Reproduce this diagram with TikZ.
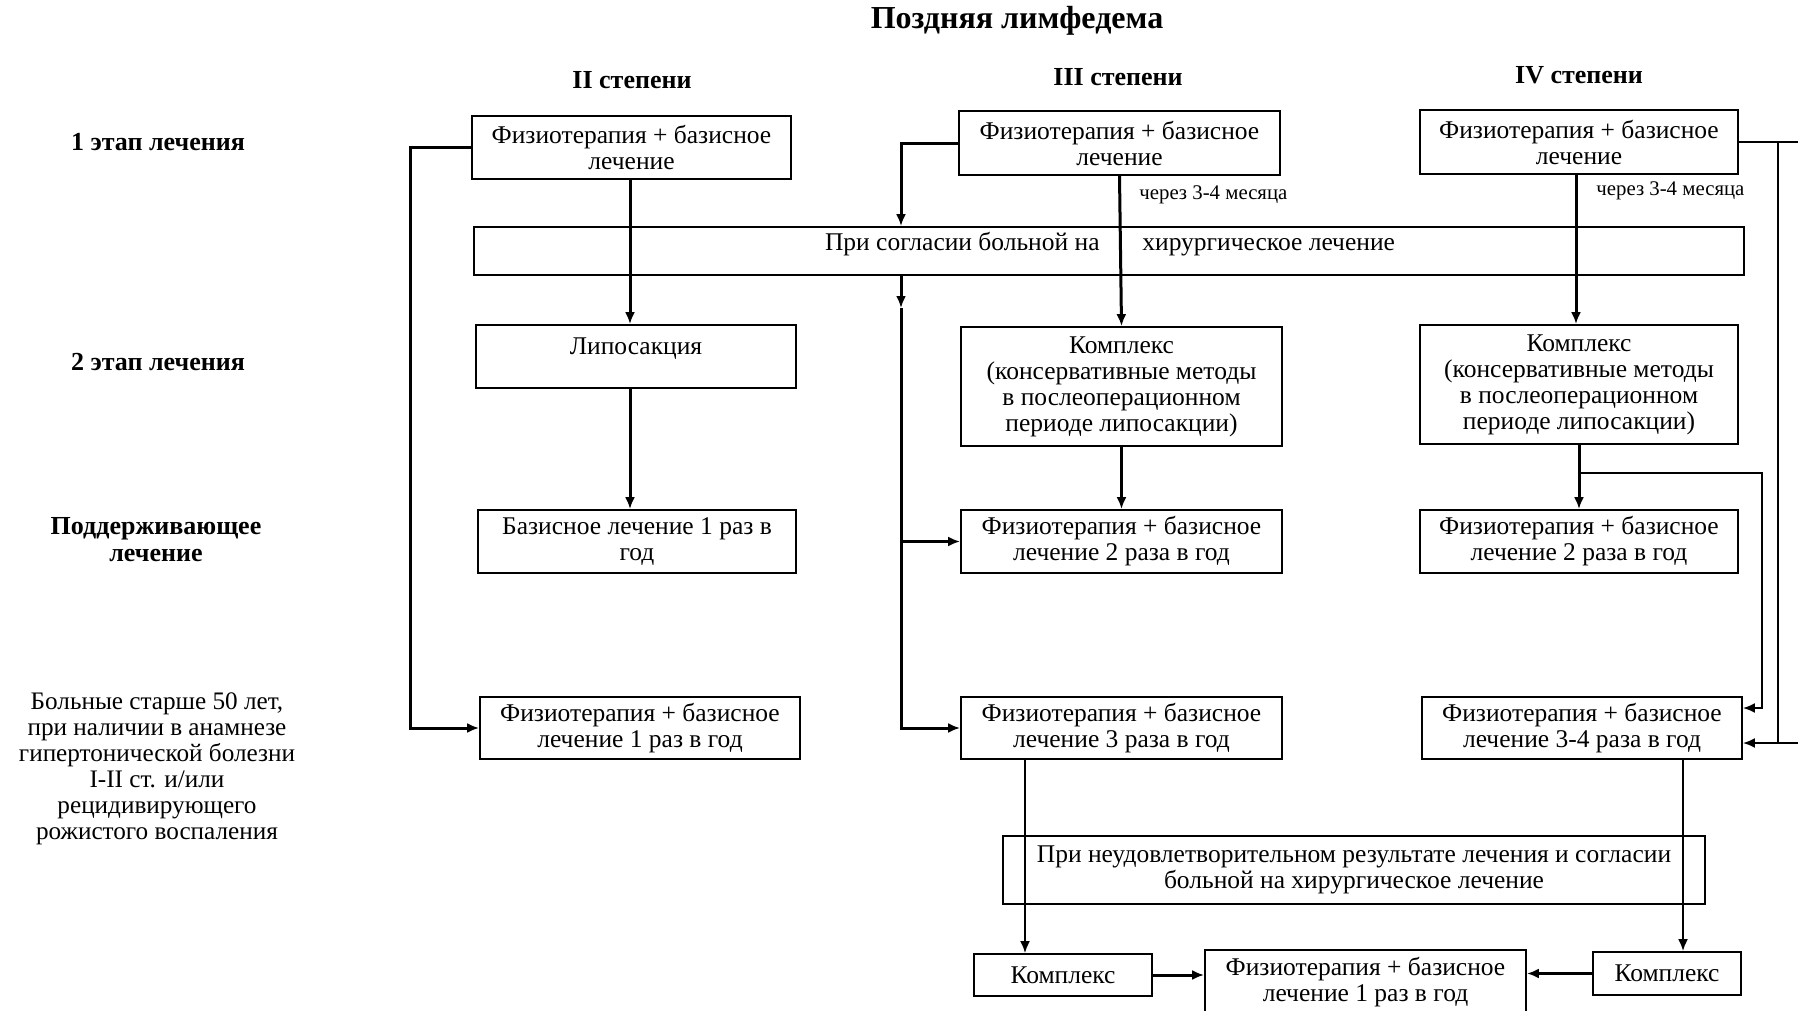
\documentclass[tikz,border=0pt]{standalone}
\usepackage{fontspec}
\setmainfont{Liberation Serif}
\usetikzlibrary{arrows.meta}
\begin{document}
\begin{tikzpicture}[x=0.5pt,y=-0.5pt,
  box/.style={draw,line width=0.9pt,inner sep=0pt,align=center,font=\fontsize{12.75}{13}\selectfont},
  rowlab/.style={align=center,font=\bfseries\fontsize{13}{13.5}\selectfont},
  head/.style={font=\bfseries\fontsize{13}{14}\selectfont},
  conn/.style={line width=1.5pt},
  thinconn/.style={line width=1pt},
  arr/.style={-{Latex[length=6pt,width=5pt]}},
  note/.style={font=\fontsize{10.4}{11}\selectfont,inner sep=0pt}
]
\useasboundingbox (0,0) rectangle (1798,1011);
\fill[white] (0,0) rectangle (1798,1011);

% titles
\node[font=\bfseries\fontsize{16}{18}\selectfont] (title) at (1017,21) {Поздняя лимфедема};
\node[head] (h2) at (632,80) {II степени};
\node[head] (h3) at (1118,77) {III степени};
\node[head] (h4) at (1579,75) {IV степени};

% row labels
\node[rowlab] (r1) at (158,142) {1 этап лечения};
\node[rowlab] (r2) at (158,362) {2 этап лечения};
\node[rowlab] (r3) at (156,540) {Поддерживающее\\лечение};
\node[align=center,font=\fontsize{12.6}{13}\selectfont] (r4) at (157,769)
  {Больные старше 50 лет,\\при наличии в анамнезе\\гипертонической болезни\\I-II ст. и/или\\рецидивирующего\\рожистого воспаления};

% column II
\node[box,minimum width=319*0.5pt,minimum height=63*0.5pt] (B2a) at (631.5,147.5) {Физиотерапия + базисное\\лечение};
\node[draw,line width=0.9pt,inner sep=0pt,minimum width=1270*0.5pt,minimum height=48*0.5pt] (Bar) at (1109,251) {};
\node[box,minimum width=320*0.5pt,minimum height=63*0.5pt] (Lipo) at (636,356.5) {};
\node[font=\fontsize{12.75}{13}\selectfont,inner sep=0pt] (LipoT) at (636,349) {Липосакция};
\node[box,minimum width=318*0.5pt,minimum height=63*0.5pt] (Baz) at (637,541.5) {Базисное лечение 1 раз в\\год};
\node[box,minimum width=320*0.5pt,minimum height=62*0.5pt] (F1) at (640,728) {Физиотерапия + базисное\\лечение 1 раз в год};

% bar text
\node[anchor=base east,font=\fontsize{12.75}{13}\selectfont,inner sep=0pt] (bt1) at (1100,250) {При согласии больной на};
\node[anchor=base west,font=\fontsize{12.75}{13}\selectfont,inner sep=0pt] (bt2) at (1142,250) {хирургическое лечение};

% column III
\node[box,minimum width=321*0.5pt,minimum height=64*0.5pt] (B3a) at (1119.5,143) {Физиотерапия + базисное\\лечение};
\node[box,minimum width=321*0.5pt,minimum height=119*0.5pt] (K3) at (1121.5,386.5) {Комплекс\\(консервативные методы\\в послеоперационном\\периоде липосакции)};
\node[box,minimum width=321*0.5pt,minimum height=63*0.5pt] (F2c) at (1121.5,541.5) {Физиотерапия + базисное\\лечение 2 раза в год};
\node[box,minimum width=321*0.5pt,minimum height=62*0.5pt] (F3) at (1121.5,728) {Физиотерапия + базисное\\лечение 3 раза в год};
\node[note,anchor=west] (n3) at (1139,195) {через 3-4 месяца};

% column IV
\node[box,minimum width=318*0.5pt,minimum height=64*0.5pt] (B4a) at (1579,142) {Физиотерапия + базисное\\лечение};
\node[box,minimum width=318*0.5pt,minimum height=119*0.5pt] (K4) at (1579,384.5) {Комплекс\\(консервативные методы\\в послеоперационном\\периоде липосакции)};
\node[box,minimum width=318*0.5pt,minimum height=63*0.5pt] (F2d) at (1579,541.5) {Физиотерапия + базисное\\лечение 2 раза в год};
\node[box,minimum width=320*0.5pt,minimum height=62*0.5pt] (F34) at (1582,728) {Физиотерапия + базисное\\лечение 3-4 раза в год};
\node[note,anchor=west] (n4) at (1596,191) {через 3-4 месяца};

% bottom
\node[box,minimum width=702*0.5pt,minimum height=68*0.5pt] (Uns) at (1354,870) {При неудовлетворительном результате лечения и согласии\\больной на хирургическое лечение};
\node[box,minimum width=178*0.5pt,minimum height=42*0.5pt] (KL) at (1063,975) {Комплекс};
\node[box,minimum width=321*0.5pt,minimum height=64*0.5pt,anchor=north] (Cen) at (1365.5,949) {Физиотерапия + базисное\\лечение 1 раз в год};
\node[box,minimum width=148*0.5pt,minimum height=43*0.5pt] (KR) at (1667,973.5) {Комплекс};

% helper coordinates
\coordinate (L2) at (410,0);
\coordinate (X2) at (630,0);
\coordinate (L3) at (901,0);
\coordinate (L3T) at (901,308);
\coordinate (X3b) at (1025,0);
\coordinate (X4) at (1576,0);
\coordinate (X4b) at (1683,0);
\coordinate (R1a) at (1762,473);
\coordinate (R1b) at (1762,708);
\coordinate (R2a) at (1778,142);
\coordinate (R2b) at (1778,743);
\coordinate (E1) at (1798,142);
\coordinate (E2) at (1798,743);

% connectors column II
\draw[conn,arr] (B2a.south -| X2) -- (Lipo.north -| X2);
\draw[conn,arr] (Lipo.south -| X2) -- (Baz.north -| X2);
\draw[conn,arr] (B2a.west) -- (B2a.west -| L2) -- (L2 |- F1.west) -- (F1.west);

% connectors column III
\draw[conn,arr] (B3a.west) -- (B3a.west -| L3) -- (L3 |- Bar.north);
\draw[conn,arr] (L3 |- Bar.south) -- (L3T);
\draw[conn,arr] (L3T) -- (L3 |- F3.west) -- (F3.west);
\draw[conn,arr] (L3 |- F2c.west) -- (F2c.west);
\draw[conn,arr] (B3a.south) -- (K3.north);
\draw[conn,arr] (K3.south) -- (F2c.north);
\draw[thinconn,arr] (F3.south -| X3b) -- (KL.north -| X3b);

% connectors column IV
\draw[conn,arr] (B4a.south -| X4) -- (K4.north -| X4);
\draw[conn,arr] (K4.south) -- (F2d.north);
\draw[thinconn,arr] (K4.south |- R1a) -- (R1a) -- (R1b) -- (R1b -| F34.east);
\draw[thinconn] (B4a.east) -- (E1);
\draw[thinconn] (R2a) -- (R2b);
\draw[thinconn,arr] (E2) -- (E2 -| F34.east);
\draw[thinconn,arr] (F34.south -| X4b) -- (KR.north -| X4b);

% bottom connectors
\draw[conn,arr] (KL.east) -- (KL.east -| Cen.west);
\draw[conn,arr] (KR.west) -- (KR.west -| Cen.east);
\end{tikzpicture}
\end{document}
